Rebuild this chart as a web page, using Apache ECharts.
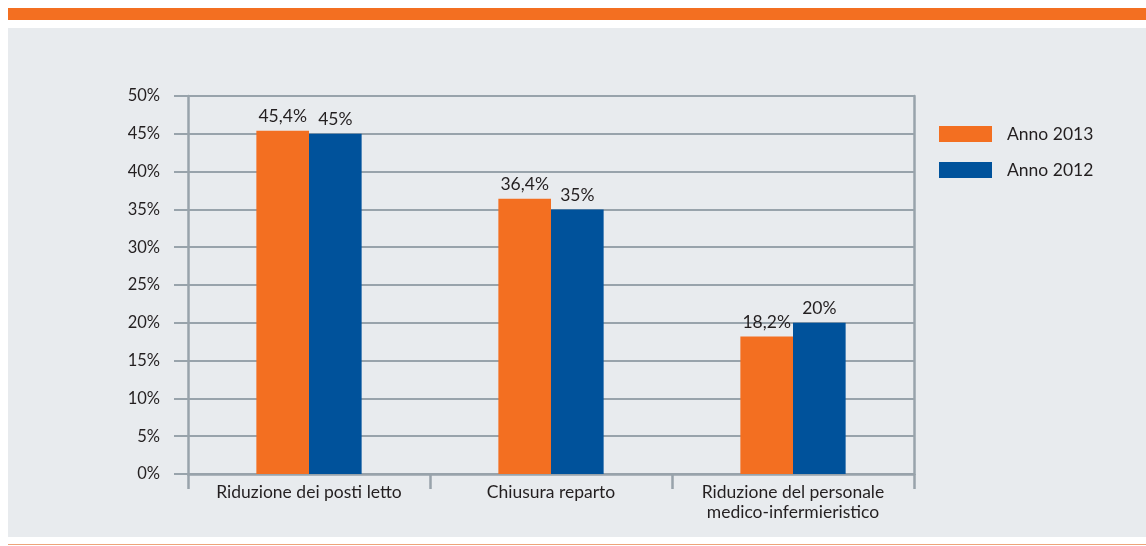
<!DOCTYPE html>
<html>
<head>
<meta charset="utf-8">
<script src="https://cdn.jsdelivr.net/npm/echarts@6/dist/echarts.min.js"></script>
<style>
  html, body { margin: 0; padding: 0; background: #ffffff; }
  #topbar { position: absolute; left: 8px; top: 8px; width: 1138px; height: 12px; background: #f36f21; }
  #panel { position: absolute; left: 8px; top: 28px; width: 1138px; height: 509px; background: #e8ebee; }
  #bottomline { position: absolute; left: 8px; top: 544px; width: 1138px; height: 1px; background: #eea37a; }
  #chart { position: absolute; left: 0; top: 0; width: 1146px; height: 546px; }
</style>
</head>
<body>
<div id="topbar"></div>
<div id="panel"></div>
<div id="bottomline"></div>
<div id="chart"></div>
<script>
const categories = ['Riduzione dei posti letto', 'Chiusura reparto', 'Riduzione del personale\nmedico-infermieristico'];
const seriesNames = ['Anno 2013', 'Anno 2012'];
const values2013 = [45.4, 36.4, 18.2];
const values2012 = [45, 35, 20];
const yTicks = [0, 5, 10, 15, 20, 25, 30, 35, 40, 45, 50];

const textColor = '#231f20';
const gridColor = '#98a3ab';
const fontFamily = 'Lato, "Open Sans", sans-serif';

const chart = echarts.init(document.getElementById('chart'));
const fmt = v => String(v).replace('.', ',') + '%';

chart.setOption({
  animation: false,
  backgroundColor: 'transparent',
  textStyle: { fontFamily: fontFamily },
  grid: { left: 188, right: 232, top: 96, bottom: 72, containLabel: false },
  legend: {
    orient: 'vertical',
    left: 939,
    top: 125,
    padding: 0,
    itemWidth: 53,
    itemHeight: 16,
    itemGap: 18,
    icon: 'rect',
    textStyle: { fontSize: 17.5, color: textColor, fontFamily: fontFamily, padding: [0, 0, 0, 10] },
    data: seriesNames
  },
  xAxis: {
    type: 'category',
    data: categories,
    boundaryGap: true,
    axisLine: { show: true, lineStyle: { color: gridColor, width: 2.5 } },
    axisTick: { show: true, interval: 0, length: 15, lineStyle: { color: gridColor, width: 2.5 } },
    axisLabel: { interval: 0, margin: 8, fontSize: 17.5, color: textColor, lineHeight: 20, fontFamily: fontFamily }
  },
  yAxis: [{
    type: 'value',
    min: 0,
    max: 50,
    interval: 5,
    position: 'left',
    axisLine: { show: true, lineStyle: { color: gridColor, width: 2.5 } },
    axisTick: { show: true, length: 14, lineStyle: { color: gridColor, width: 2 } },
    splitLine: { show: true, lineStyle: { color: gridColor, width: 2 } },
    axisLabel: { margin: 28, fontSize: 16.5, color: textColor, fontFamily: fontFamily, formatter: v => yTicks.includes(v) ? v + '%' : '' }
  }, {
    type: 'value',
    min: 0,
    max: 50,
    interval: 5,
    position: 'right',
    axisLine: { show: true, lineStyle: { color: gridColor, width: 2.5 } },
    axisTick: { show: false },
    splitLine: { show: false },
    axisLabel: { show: false }
  }],
  series: [{
    name: seriesNames[0],
    type: 'bar',
    data: values2013,
    barGap: '0%',
    barCategoryGap: '56.5%',
    itemStyle: { color: '#f36f21' },
    label: { show: true, position: 'top', distance: 5, fontSize: 17.5, color: textColor, fontFamily: fontFamily, formatter: p => fmt(p.value) }
  }, {
    name: seriesNames[1],
    type: 'bar',
    data: values2012,
    barGap: '0%',
    barCategoryGap: '56.5%',
    itemStyle: { color: '#00529b' },
    label: { show: true, position: 'top', distance: 5, fontSize: 17.5, color: textColor, fontFamily: fontFamily, formatter: p => fmt(p.value) }
  }]
});
</script>
</body>
</html>
